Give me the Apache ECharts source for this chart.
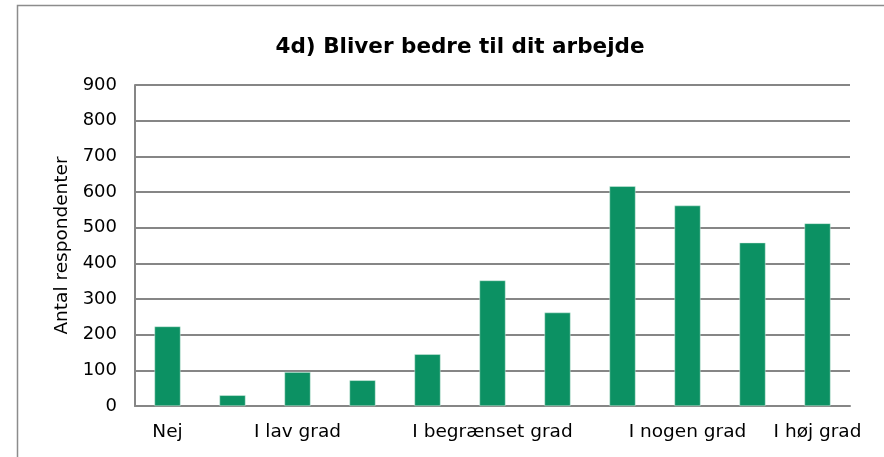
<!DOCTYPE html>
<html><head><meta charset="utf-8">
<script src="https://cdn.jsdelivr.net/npm/echarts@6/dist/echarts.min.js"></script>
<style>html,body{margin:0;padding:0;background:#fff}#c{width:884px;height:457px}</style>
</head><body><div id="c"></div>
<script>
const titleText = "4d) Bliver bedre til dit arbejde";
const yAxisName = "Antal respondenter";
const categories = ["Nej", "", "I lav grad", "", "", "I begrænset grad", "", "", "I nogen grad", "", "I høj grad"];
const values = [223, 30, 95, 72, 145, 352, 262, 616, 562, 458, 512];
const yTicks = [0, 100, 200, 300, 400, 500, 600, 700, 800, 900];

const chart = echarts.init(document.getElementById('c'));
const font = "DejaVu Sans, Verdana, sans-serif";
chart.setOption({
  animation: false,
  title: {
    text: titleText, left: 455, top: 31, textAlign: 'center',
    textStyle: { fontFamily: font, fontWeight: 'bold', fontSize: 21.5, color: '#000' }
  },
  graphic: [{
    type: 'rect', shape: { x: 17.5, y: 5.5, width: 900, height: 500 },
    style: { fill: 'none', stroke: '#8c8c8c', lineWidth: 1.5 }, silent: true, z: -1
  }],
  grid: { left: 135, right: 34, top: 85, bottom: 51, containLabel: false },
  xAxis: {
    type: 'category', data: categories,
    axisLine: { lineStyle: { color: '#868686', width: 2 } },
    axisTick: { show: false },
    axisLabel: { interval: 0, color: '#000', fontFamily: font, fontSize: 18.5, margin: 17 }
  },
  yAxis: {
    type: 'value', min: yTicks[0], max: yTicks[yTicks.length - 1], interval: 100,
    name: yAxisName, nameLocation: 'middle', nameGap: 63,
    nameTextStyle: { color: '#000', fontFamily: font, fontSize: 18.5 },
    axisLine: { show: true, lineStyle: { color: '#868686', width: 2 } },
    axisTick: { show: false },
    splitLine: { lineStyle: { color: '#868686', width: 2 } },
    axisLabel: { color: '#000', fontFamily: font, fontSize: 18, margin: 18 }
  },
  series: [{
    type: 'bar', data: values, barWidth: '40%',
    itemStyle: { color: '#0c9163', borderColor: '#d8eee4', borderWidth: 0.5 }
  }]
});
</script></body></html>
